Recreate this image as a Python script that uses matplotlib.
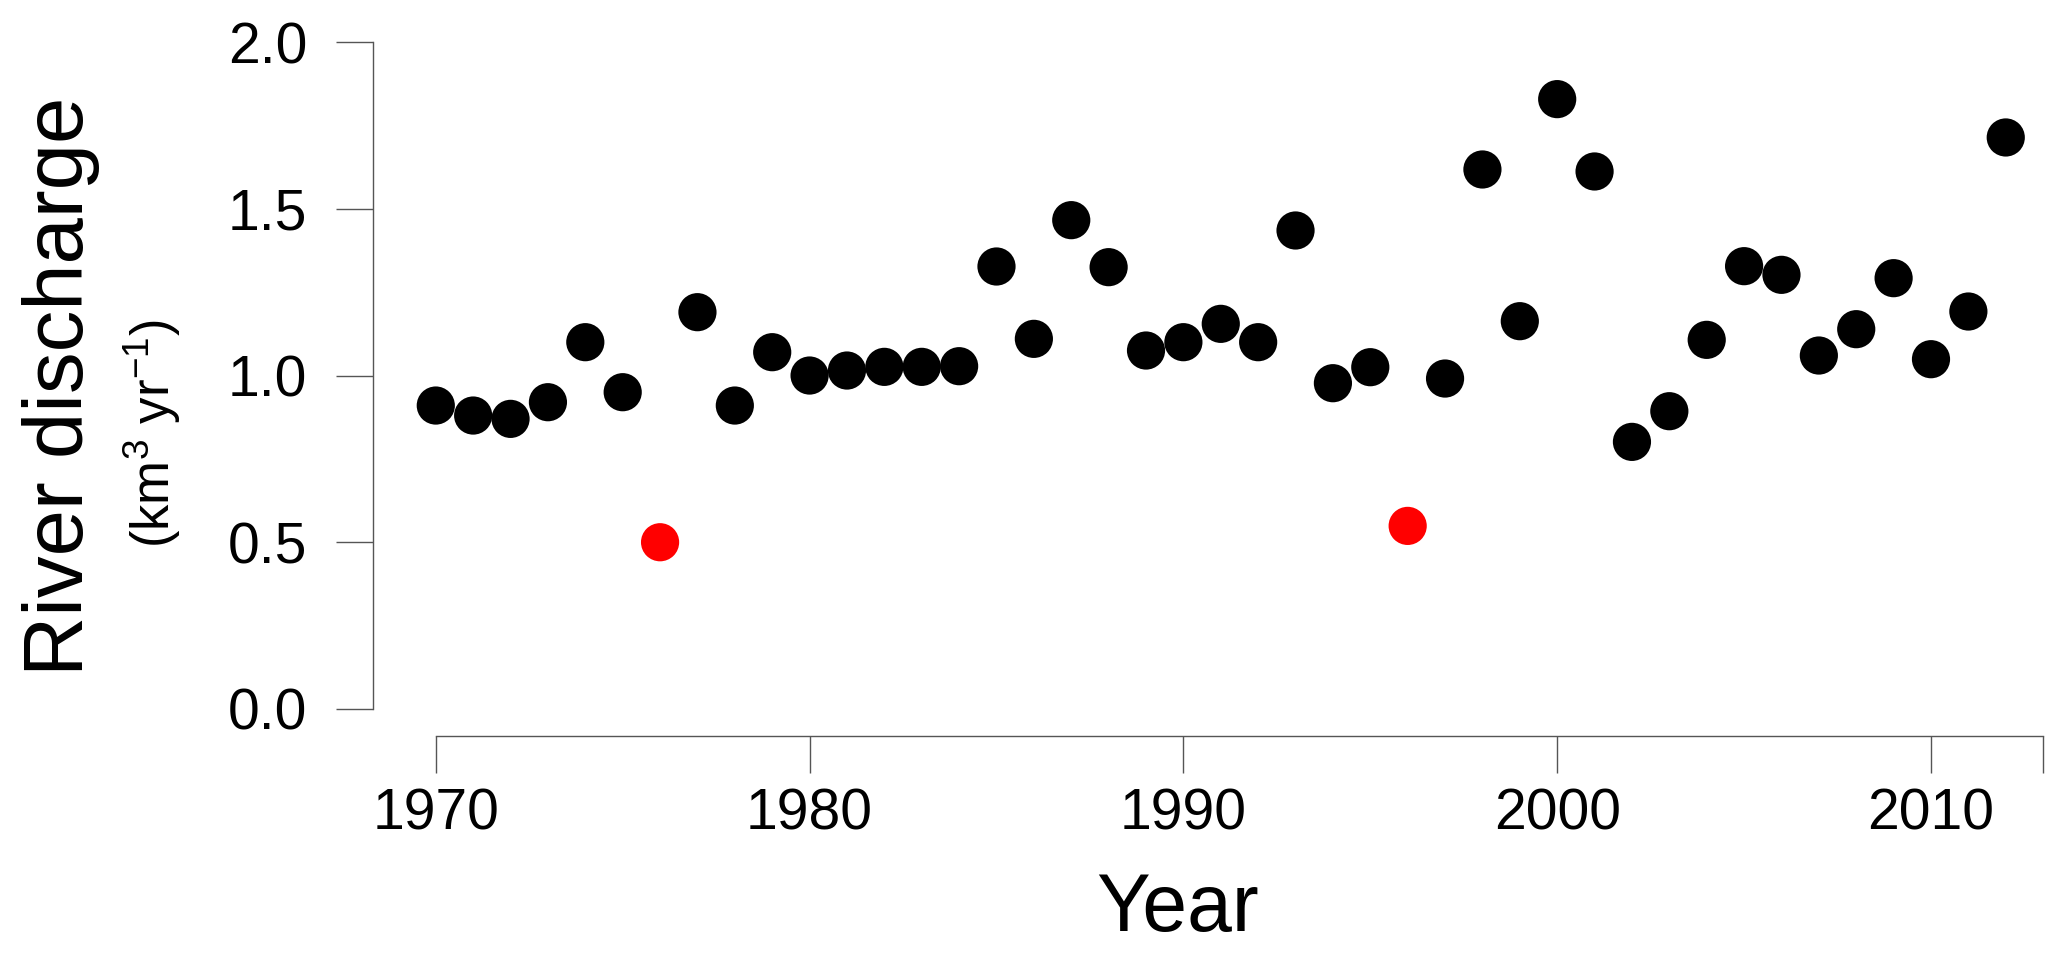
import matplotlib
matplotlib.use("Agg")
import matplotlib.pyplot as plt

plt.rcParams['font.family'] = ['Liberation Sans', 'DejaVu Sans']
plt.rcParams['mathtext.fontset'] = 'custom'
plt.rcParams['mathtext.rm'] = 'Liberation Sans'
plt.rcParams['mathtext.it'] = 'Liberation Sans'

# annual river discharge (km3/yr), black = normal years
years = [1970, 1971, 1972, 1973, 1974, 1975, 1977, 1978, 1979, 1980,
         1981, 1982, 1983, 1984, 1985, 1986, 1987, 1988, 1989, 1990,
         1991, 1992, 1993, 1994, 1995, 1997, 1998, 1999, 2000, 2001,
         2002, 2003, 2004, 2005, 2006, 2007, 2008, 2009, 2010, 2011, 2012]
discharge = [0.91, 0.88, 0.87, 0.92, 1.10, 0.95, 1.19, 0.91, 1.07, 1.00,
             1.015, 1.026, 1.026, 1.028, 1.327, 1.11, 1.466, 1.325, 1.075, 1.10,
             1.155, 1.10, 1.435, 0.977, 1.025, 0.991, 1.618, 1.163, 1.829, 1.612,
             0.801, 0.893, 1.107, 1.328, 1.302, 1.06, 1.139, 1.292, 1.049, 1.192, 1.714]

# highlighted (red) years
red_years = [1976, 1996]
red_discharge = [0.50, 0.549]

xticks = [1970, 1980, 1990, 2000, 2010, 2013]
xtick_labels = ['1970', '1980', '1990', '2000', '2010', '']
yticks = [0.0, 0.5, 1.0, 1.5, 2.0]

fig = plt.figure(figsize=(20.67, 9.65), dpi=100)
ax = fig.add_axes([0.18045, 0.2377, 0.8203, 0.7463])

msize = 27.5 ** 2
ax.scatter(years, discharge, s=msize, c='black', edgecolors='none', zorder=3)
ax.scatter(red_years, red_discharge, s=msize, c='#ff0000', edgecolors='none', zorder=3)

ax.set_xlim(1968.32, 2013.68)
ax.set_ylim(-0.08, 2.08)

axis_col = '#555555'
for s in ['top', 'right']:
    ax.spines[s].set_visible(False)
ax.spines['left'].set_bounds(0, 2)
ax.spines['bottom'].set_bounds(1970, 2013)
for s in ['left', 'bottom']:
    ax.spines[s].set_color(axis_col)
    ax.spines[s].set_linewidth(1.0)

ax.set_xticks(xticks)
ax.set_xticklabels(xtick_labels)
ax.set_yticks(yticks)
ax.set_yticklabels([f'{v:.1f}' for v in yticks])
ax.tick_params(axis='both', direction='out', length=26.5, width=1.0,
               color=axis_col, labelsize=41, labelcolor='black')
ax.tick_params(axis='y', pad=21)
ax.tick_params(axis='x', pad=11)

fig.text(0.5697, 0.057, 'Year', fontsize=58, ha='center', va='center')
fig.text(0.0295, 0.600, 'River discharge', fontsize=60, rotation=90,
         ha='center', va='center')
fig.text(0.0735, 0.5508, r'(km$^{3}$ yr$^{-1}$)', fontsize=38, rotation=90,
         ha='center', va='center')

fig.savefig('out.png', dpi=100)
